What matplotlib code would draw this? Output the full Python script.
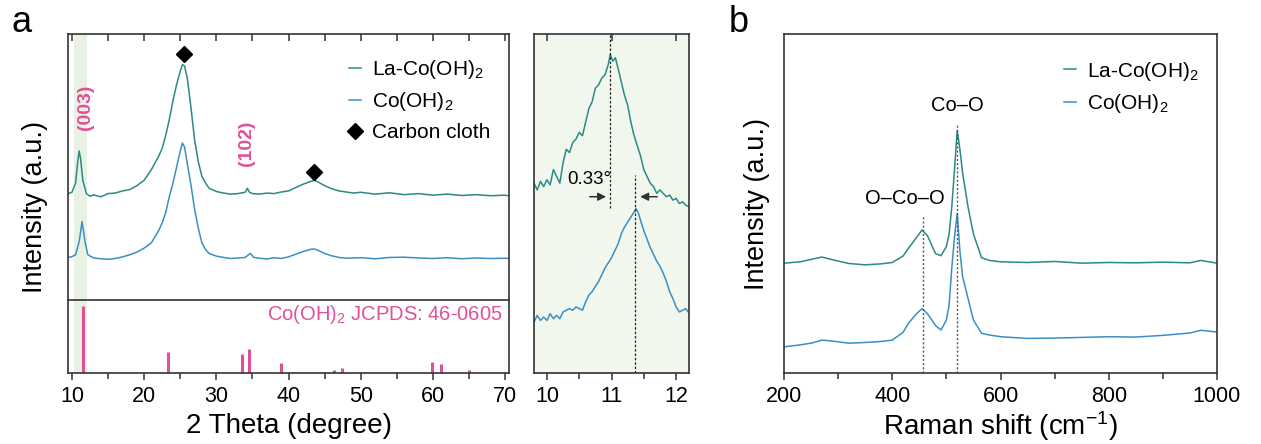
import numpy as np
import matplotlib
matplotlib.use('Agg')
import matplotlib.pyplot as plt

plt.rcParams['font.family'] = ['Liberation Sans', 'DejaVu Sans']
plt.rcParams['mathtext.fontset'] = 'custom'
plt.rcParams['mathtext.rm'] = 'Liberation Sans'
plt.rcParams['mathtext.it'] = 'Liberation Sans:italic'
plt.rcParams['mathtext.bf'] = 'Liberation Sans:bold'

# ---- data ----
# XRD, La-Co(OH)2, arbitrary intensity (0-100 frame)
xrd_x_la = [9.5, 10, 10.5, 10.8, 11.0, 11.2, 11.5, 12, 12.5, 13, 14, 15, 16, 17, 18, 19, 20, 21, 22,
            22.5, 23, 23.5, 24, 24.5, 25, 25.3, 25.6, 26, 26.5, 27, 27.5, 28, 28.5, 29, 30, 31, 32, 33,
            34, 34.3, 34.6, 35, 36, 37, 38, 39, 40, 41, 42, 43, 43.5, 44, 45, 46, 47, 48, 49, 50, 52,
            54, 56, 58, 60, 62, 64, 66, 68, 70, 70.5]
xrd_y_la = [40, 40.5, 44, 52, 56, 53, 45, 40, 39, 39.5, 38.8, 40, 40.2, 41, 41.5, 43, 45, 49, 54,
            57, 62, 68, 75, 81, 86, 88.5, 88, 83, 72, 60, 52, 46.5, 44, 42, 40.8, 40.2, 39.8, 40,
            40.5, 42, 40.5, 40, 39.8, 40.2, 40, 40.6, 41, 42.3, 43.5, 44.5, 45, 44.5, 43, 41.8, 41,
            40.6, 40.2, 40.5, 39.8, 40.3, 39.6, 40, 39.4, 39.8, 39.3, 39.6, 39.2, 39.4, 39.2]
# XRD, Co(OH)2
xrd_x_co = [9.5, 10, 10.5, 11, 11.4, 11.8, 12.2, 13, 14, 15, 16, 17, 18, 19, 20, 21, 22, 22.5, 23,
            23.5, 24, 24.5, 25, 25.3, 25.6, 26, 26.5, 27, 27.5, 28, 28.5, 29, 30, 31, 32, 33, 34,
            34.7, 35.2, 36, 37, 38, 39, 40, 41, 42, 43, 43.5, 44, 45, 46, 47, 48, 50, 52, 54, 56,
            58, 60, 62, 64, 66, 68, 70, 70.5]
xrd_y_co = [16, 16.3, 17, 22, 29.5, 22, 17, 15.8, 15.5, 15.3, 15.6, 16.2, 17, 18, 19.5, 21.5, 26,
            29, 33, 39, 44, 50, 56, 59, 57.5, 51, 43, 34, 27, 21.5, 19, 17.5, 16.5, 16, 15.6, 15.8,
            16, 17.5, 16, 15.7, 15.4, 15.9, 15.6, 16.2, 17.2, 18.2, 19, 19.2, 18.8, 17.5, 16.6, 16,
            15.7, 15.9, 15.5, 16, 16.1, 15.8, 15.6, 15.9, 15.5, 15.8, 15.6, 15.7, 15.6]
# JCPDS 46-0605 reference lines
ref_pos = [11.5, 23.3, 33.6, 34.5, 39.0, 46.3, 47.4, 59.9, 61.1, 65.0]
ref_int = [100, 31, 28, 36, 15, 5, 7, 16, 13, 5]
carbon_pos = [25.5, 43.5]
carbon_y = [92.5, 48]

# zoom of the (003) peak
zx_la = [9.8, 9.85, 9.9, 9.95, 10.0, 10.05, 10.1, 10.15, 10.2, 10.25, 10.3, 10.35, 10.4, 10.45, 10.5,
         10.55, 10.6, 10.65, 10.7, 10.75, 10.8, 10.85, 10.9, 10.95, 10.98, 11.02, 11.06, 11.1, 11.15,
         11.2, 11.25, 11.3, 11.35, 11.4, 11.45, 11.5, 11.55, 11.6, 11.65, 11.7, 11.75, 11.8, 11.85,
         11.9, 11.95, 12.0, 12.05, 12.1, 12.15, 12.2]
zy_la = [56, 54, 56.5, 55, 57, 55.5, 60, 58, 56, 62, 66, 65, 68, 69, 71, 70, 74, 78, 80, 84, 85, 87,
         88, 91, 94, 92, 93, 90, 86, 82, 79, 74, 70, 67, 64, 60, 58, 56, 55, 53, 54, 53, 52, 52.5,
         51, 51.5, 50, 50.5, 49.5, 49]
zx_co = [9.8, 9.85, 9.9, 9.95, 10.0, 10.05, 10.1, 10.15, 10.2, 10.25, 10.3, 10.35, 10.4, 10.45, 10.5,
         10.55, 10.6, 10.65, 10.7, 10.75, 10.8, 10.85, 10.9, 10.95, 11.0, 11.05, 11.1, 11.15, 11.2,
         11.25, 11.3, 11.35, 11.38, 11.42, 11.45, 11.5, 11.55, 11.6, 11.65, 11.7, 11.75, 11.8, 11.85,
         11.9, 11.95, 12.0, 12.05, 12.1, 12.15, 12.2]
zy_co = [15, 17, 15.5, 16.5, 15.5, 17.5, 16, 17, 16, 18, 18.5, 19, 18.5, 19.5, 19, 18.5, 21, 23, 24,
         25.5, 27, 29, 31, 32.5, 34, 36, 38, 41, 43, 44.5, 46, 47.5, 48.5, 47, 45, 42, 39.5, 37, 35,
         33, 31.5, 29.5, 27, 24, 22, 19.5, 18, 18.5, 19, 17.7]
peak_la = 10.98
peak_co = 11.37

# Raman
ram_x = [200, 230, 250, 270, 290, 320, 350, 380, 400, 420, 430, 445, 455, 465, 480, 490, 500, 505,
         510, 515, 520, 525, 530, 540, 550, 565, 580, 600, 650, 700, 750, 800, 850, 900, 950, 970, 1000]
ram_la = [32.4, 32.8, 33.5, 34.2, 33.4, 32.3, 31.9, 32.2, 32.6, 34.5, 36.8, 40, 42.2, 40.5, 35.2,
          34.6, 37.3, 41, 49, 60, 71.5, 66, 59, 49, 41, 34, 33.2, 32.8, 32.6, 32.9, 32.4, 32.6,
          32.5, 32.7, 32.5, 33.2, 32.4]
ram_co = [7.7, 8.3, 8.8, 9.7, 9.4, 8.8, 9.0, 9.3, 9.7, 12, 14.7, 17.5, 19, 17.5, 14, 12.7, 15.6, 20,
          31, 40, 47.1, 36, 28.4, 22, 15.6, 11.7, 11.2, 10.7, 10.2, 10.3, 10.5, 10.7, 10.6, 11.1,
          11.8, 12.6, 12.1]
ram_peaks = [457, 520]

c_la = '#2b8a85'
c_co = '#3b8fc2'
pink = '#e0509a'
W, H = 1261, 444
tkw = dict(color='#333333', width=1.1)


def rect(l, t, r, b):
    return [l / W, 1 - b / H, (r - l) / W, (b - t) / H]


fig = plt.figure(figsize=(W / 100, H / 100), dpi=100)

ax1 = fig.add_axes(rect(68, 34, 509, 300))
ax2 = fig.add_axes(rect(68, 300, 509, 373))
ax3 = fig.add_axes(rect(534, 34, 689, 373))
ax4 = fig.add_axes(rect(784, 34, 1217, 373))

for ax in (ax1, ax2, ax3, ax4):
    for s in ax.spines.values():
        s.set_color('#333333')
        s.set_linewidth(1.2)
    ax.tick_params(direction='out', labelsize=15.5, length=5, pad=4, **tkw)
    ax.tick_params(which='minor', direction='out', length=4, **tkw)
    ax.set_yticks([])

# panel a, upper
ax1.axvspan(10.3, 12.1, color='#e9f2e2', lw=0)
ax1.plot(xrd_x_la, xrd_y_la, color=c_la, lw=1.1, label='La-Co(OH)$_2$')
ax1.plot(xrd_x_co, xrd_y_co, color=c_co, lw=1.1, label='Co(OH)$_2$')
ax1.plot(carbon_pos, carbon_y, 'D', color='black', ms=8, ls='none', label='Carbon cloth')
ax1.set_xlim(9.45, 70.55)
ax1.set_ylim(0, 100)
ax1.set_xticks(np.arange(10, 71, 5))
ax1.tick_params(direction='in', bottom=False, top=True, labelbottom=False)
ax1.spines['bottom'].set_visible(False)
ax1.text(11.9, 72.6, '(003)', color=pink, rotation=90, ha='center', va='center',
         fontsize=14, fontweight='bold')
ax1.text(34.2, 59, '(102)', color=pink, rotation=90, ha='center', va='center',
         fontsize=14, fontweight='bold')
ax1.legend(loc='upper right', bbox_to_anchor=(1.0, 0.98), frameon=False, fontsize=15,
           handlelength=0.6, handletextpad=0.5, labelspacing=0.45)

# panel a, lower (reference pattern)
ax2.axvspan(10.3, 12.1, color='#e9f2e2', lw=0)
ax2.vlines(ref_pos, 0, ref_int, color=pink, lw=2.2)
ax2.set_xlim(9.45, 70.55)
ax2.set_ylim(0, 109)
ax2.set_xticks(np.arange(10, 71, 10))
ax2.set_xticks(np.arange(15, 70, 10), minor=True)
ax2.text(0.985, 0.8, 'Co(OH)$_2$ JCPDS: 46-0605', transform=ax2.transAxes, color=pink,
         ha='right', va='center', fontsize=14.5)
ax2.set_xlabel('2 Theta (degree)', fontsize=20, labelpad=5)

# panel a, zoom
ax3.set_facecolor('#f2f7ee')
ax3.plot(zx_la, zy_la, color=c_la, lw=1.1)
ax3.plot(zx_co, zy_co, color=c_co, lw=1.1)
ax3.plot([peak_la, peak_la], [48.6, 100], color='#222222', ls=(0, (2, 1.5)), lw=0.9)
ax3.plot([peak_co, peak_co], [0, 58.4], color='#222222', ls=(0, (2, 1.5)), lw=0.9)
ax3.annotate('', xy=(peak_la - 0.02, 52), xytext=(10.62, 52),
             arrowprops=dict(arrowstyle='-|>', color='#333333', lw=1.1, mutation_scale=12))
ax3.annotate('', xy=(peak_co + 0.03, 52), xytext=(11.75, 52),
             arrowprops=dict(arrowstyle='-|>', color='#333333', lw=1.1, mutation_scale=12))
ax3.text(10.65, 57, '0.33°', ha='center', va='center', fontsize=13.5)
ax3.set_xlim(9.8, 12.2)
ax3.set_ylim(0, 100)
ax3.set_xticks([10, 11, 12])
ax3.set_xticks([10.5, 11.5], minor=True)
top3 = ax3.secondary_xaxis('top')
top3.set_xticks([10, 11, 12])
top3.tick_params(direction='in', length=5, labeltop=False, **tkw)
top3.spines['top'].set_visible(False)

# panel b
ax4.plot(ram_x, ram_la, color=c_la, lw=1.1, label='La-Co(OH)$_2$')
ax4.plot(ram_x, ram_co, color=c_co, lw=1.1, label='Co(OH)$_2$')
ax4.plot([ram_peaks[0]] * 2, [0, 46.6], color='#555555', ls=(0, (1.5, 1.5)), lw=1)
ax4.plot([ram_peaks[1]] * 2, [0, 73.7], color='#555555', ls=(0, (1.5, 1.5)), lw=1)
ax4.text(520, 78.8, 'Co–O', ha='center', va='center', fontsize=14.5)
ax4.text(423, 51.6, 'O–Co–O', ha='center', va='center', fontsize=14.5)
ax4.set_xlim(200, 1000)
ax4.set_ylim(0, 100)
ax4.set_xticks(np.arange(200, 1001, 200))
ax4.set_xticks(np.arange(300, 1000, 200), minor=True)
ax4.set_xlabel('Raman shift (cm$^{-1}$)', fontsize=20, labelpad=2)
ax4.set_ylabel('Intensity (a.u.)', fontsize=19.5, labelpad=10)
ax4.legend(loc='upper right', bbox_to_anchor=(1.0, 0.98), frameon=False, fontsize=15,
           handlelength=0.6, handletextpad=0.5, labelspacing=0.45)

fig.text(35 / W, 1 - 207 / H, 'Intensity (a.u.)', rotation=90, ha='center', va='center',
         fontsize=19.5)
fig.text(22 / W, 1 - 22 / H, 'a', ha='center', va='center', fontsize=26)
fig.text(739 / W, 1 - 22 / H, 'b', ha='center', va='center', fontsize=26)

fig.savefig('out.png', dpi=100)
